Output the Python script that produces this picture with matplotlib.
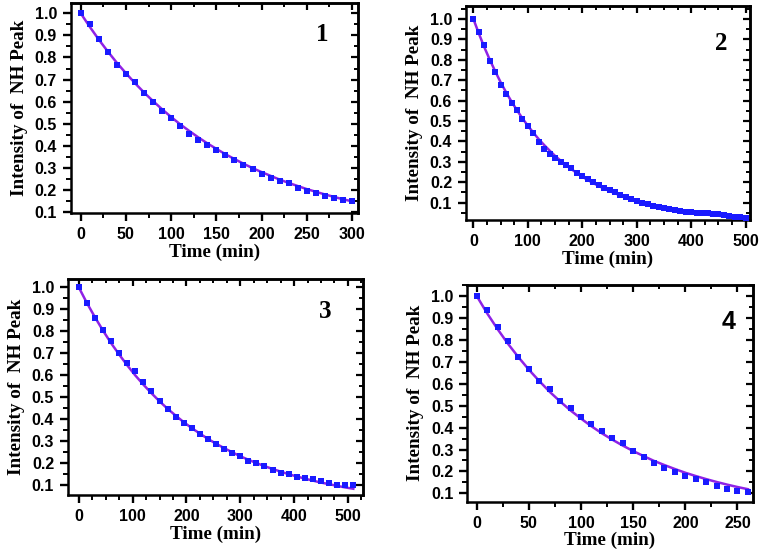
import matplotlib
matplotlib.use("Agg")
import matplotlib.pyplot as plt
from matplotlib.ticker import MultipleLocator, FormatStrFormatter

# ── colours / fonts ─────────────────────────────────────────────────────────
PT_COLOR   = "#1a1aff"
FIT_COLOR  = "#8f22e6"
TICK_FONT  = "Liberation Sans"
LABEL_FONT = "Liberation Serif"

# ── data ────────────────────────────────────────────────────────────────────
t1 = [0, 10, 20, 30, 40, 50, 60, 70, 80, 90, 100, 110, 120, 130, 140, 150,
      160, 170, 180, 190, 200, 210, 220, 230, 240, 250, 260, 270, 280, 290, 300]
y1 = [1.0, 0.952, 0.883, 0.823, 0.766, 0.724, 0.687, 0.640, 0.597, 0.559, 0.526,
      0.489, 0.453, 0.426, 0.403, 0.384, 0.360, 0.337, 0.313, 0.295, 0.273, 0.255,
      0.241, 0.232, 0.211, 0.196, 0.186, 0.175, 0.166, 0.156, 0.150]
f1 = [1.0, 0.939, 0.881, 0.827, 0.776, 0.729, 0.684, 0.642, 0.603, 0.566, 0.531,
      0.498, 0.468, 0.439, 0.412, 0.387, 0.363, 0.341, 0.320, 0.300, 0.282, 0.265,
      0.248, 0.233, 0.219, 0.205, 0.193, 0.181, 0.170, 0.159, 0.150]

t2 = [0, 10, 20, 30, 40, 50, 60, 70, 80, 90, 100, 110, 120, 130, 140, 150, 160,
      170, 180, 190, 200, 210, 220, 230, 240, 250, 260, 270, 280, 290, 300, 310,
      320, 330, 340, 350, 360, 370, 380, 390, 400, 410, 420, 430, 440, 450, 460,
      470, 480, 490, 500]
y2 = [1.0, 0.938, 0.873, 0.796, 0.740, 0.678, 0.631, 0.588, 0.554, 0.512, 0.476,
      0.440, 0.399, 0.363, 0.338, 0.319, 0.298, 0.285, 0.268, 0.247, 0.231, 0.214,
      0.200, 0.185, 0.172, 0.162, 0.151, 0.138, 0.128, 0.118, 0.110, 0.100, 0.092,
      0.085, 0.080, 0.074, 0.069, 0.064, 0.059, 0.056, 0.053, 0.051, 0.049, 0.048,
      0.046, 0.043, 0.040, 0.036, 0.031, 0.028, 0.025]
f2 = [1.0, 0.929, 0.862, 0.801, 0.744, 0.690, 0.641, 0.595, 0.553, 0.513, 0.477,
      0.443, 0.411, 0.382, 0.355, 0.329, 0.306, 0.284, 0.264, 0.245, 0.227, 0.211,
      0.196, 0.182, 0.169, 0.157, 0.146, 0.135, 0.126, 0.117, 0.108, 0.101, 0.093,
      0.087, 0.081, 0.075, 0.069, 0.065, 0.060, 0.056, 0.052, 0.048, 0.045, 0.041,
      0.038, 0.036, 0.033, 0.031, 0.029, 0.027, 0.025]

t3 = [0, 15, 30, 45, 60, 75, 90, 105, 120, 135, 150, 165, 180, 195, 210, 225,
      240, 255, 270, 285, 300, 315, 330, 345, 360, 375, 390, 405, 420, 435, 450,
      465, 480, 495, 510]
y3 = [1.0, 0.930, 0.860, 0.805, 0.754, 0.701, 0.655, 0.619, 0.568, 0.530, 0.481,
      0.448, 0.411, 0.381, 0.359, 0.330, 0.309, 0.286, 0.263, 0.246, 0.230, 0.210,
      0.202, 0.187, 0.169, 0.156, 0.149, 0.138, 0.130, 0.127, 0.118, 0.111, 0.102,
      0.100, 0.099]
f3 = [1.0, 0.929, 0.864, 0.803, 0.746, 0.694, 0.645, 0.599, 0.557, 0.518, 0.481,
      0.447, 0.416, 0.386, 0.359, 0.334, 0.310, 0.288, 0.268, 0.249, 0.231, 0.215,
      0.200, 0.186, 0.173, 0.161, 0.149, 0.139, 0.129, 0.120, 0.111, 0.104, 0.096,
      0.089, 0.083]

t4 = [0, 10, 20, 30, 40, 50, 60, 70, 80, 90, 100, 110, 120, 130, 140, 150, 160,
      170, 180, 190, 200, 210, 220, 230, 240, 250, 260]
y4 = [1.0, 0.936, 0.857, 0.795, 0.722, 0.666, 0.613, 0.578, 0.523, 0.488, 0.450,
      0.416, 0.384, 0.354, 0.328, 0.293, 0.267, 0.240, 0.214, 0.197, 0.179, 0.164,
      0.152, 0.133, 0.121, 0.112, 0.108]
f4 = [1.0, 0.921, 0.849, 0.782, 0.721, 0.664, 0.612, 0.563, 0.519, 0.478, 0.441,
      0.406, 0.374, 0.345, 0.318, 0.293, 0.270, 0.248, 0.229, 0.211, 0.194, 0.179,
      0.165, 0.152, 0.140, 0.129, 0.119]

panels = [
    # data,            axes rect (fig frac),                 xlim,        ylim,          x major/minor, tag, tag pos, tag font
    ((t1, y1, f1), [0.0933, 0.6155, 0.3771, 0.3790], (-10.7, 306.6), (0.097, 1.046), (50, 25),  "1", (0.875, 0.848), LABEL_FONT),
    ((t2, y2, f2), [0.6124, 0.6029, 0.3732, 0.3868], (-13.5, 508),   (0.015, 1.065), (100, 25), "2", (0.900, 0.825), LABEL_FONT),
    ((t3, y3, f3), [0.0894, 0.1065, 0.3876, 0.3899], (-20, 528),     (0.0545, 1.038),(100, 25), "3", (0.871, 0.849), LABEL_FONT),
    ((t4, y4, f4), [0.6141, 0.0944, 0.3750, 0.3911], (-9, 264.6),    (0.062, 1.050), (50, 25),  "4", (0.915, 0.830), TICK_FONT),
]

fig = plt.figure(figsize=(7.61, 5.54), dpi=100, facecolor="white")

for (t, y, f), rect, xlim, ylim, (xmaj, xmin), tag, tpos, tfont in panels:
    ax = fig.add_axes(rect)
    ax.plot(t, f, color=FIT_COLOR, lw=1.8, zorder=2)
    ax.plot(t, y, ls="none", marker="s", ms=5, color=PT_COLOR,
            markeredgewidth=0, zorder=3)
    ax.set_xlim(*xlim)
    ax.set_ylim(*ylim)

    ax.xaxis.set_major_locator(MultipleLocator(xmaj))
    ax.xaxis.set_minor_locator(MultipleLocator(xmin))
    ax.yaxis.set_major_locator(MultipleLocator(0.1))
    ax.yaxis.set_minor_locator(MultipleLocator(0.05))
    ax.yaxis.set_major_formatter(FormatStrFormatter("%.1f"))

    for sp in ax.spines.values():
        sp.set_linewidth(1.8)
    ax.tick_params(which="major", direction="out", length=6, width=1.7, pad=4)
    ax.tick_params(which="minor", direction="out", length=3.5, width=1.4)
    for lab in ax.get_xticklabels() + ax.get_yticklabels():
        lab.set_fontfamily(TICK_FONT)
        lab.set_fontweight("bold")
        lab.set_fontsize(11.5)

    # mirrored inward ticks on the top and right
    top = ax.secondary_xaxis("top")
    top.xaxis.set_major_locator(MultipleLocator(xmaj))
    top.xaxis.set_minor_locator(MultipleLocator(xmin))
    top.tick_params(which="major", direction="in", length=5, width=1.6, labeltop=False)
    top.tick_params(which="minor", direction="in", length=3, width=1.4)
    right = ax.secondary_yaxis("right")
    right.yaxis.set_major_locator(MultipleLocator(0.1))
    right.yaxis.set_minor_locator(MultipleLocator(0.05))
    right.tick_params(which="major", direction="in", length=5, width=1.6, labelright=False)
    right.tick_params(which="minor", direction="in", length=3, width=1.4)
    for s in (top, right):
        for sp in s.spines.values():
            sp.set_linewidth(1.8)

    ax.set_xlabel("Time (min)", fontfamily=LABEL_FONT, fontweight="bold",
                  fontsize=13.8, labelpad=1)
    ax.set_ylabel("Intensity of  NH Peak", fontfamily=LABEL_FONT,
                  fontweight="bold", fontsize=13.8, labelpad=5)
    ax.text(tpos[0], tpos[1], tag, transform=ax.transAxes, ha="center",
            va="center", fontsize=18, fontweight="bold", fontfamily=tfont)

fig.savefig("out.png", dpi=100, facecolor="white")
